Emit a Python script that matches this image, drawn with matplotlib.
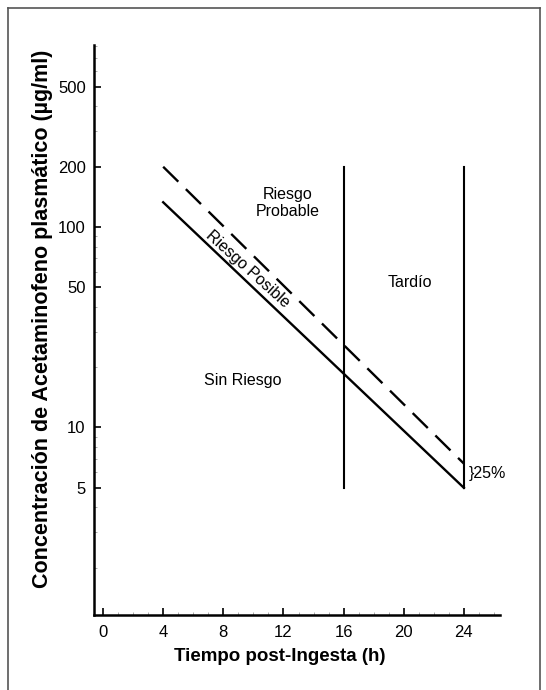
import numpy as np
import matplotlib.pyplot as plt
from matplotlib.ticker import FixedLocator, NullFormatter, LogLocator, MultipleLocator

plt.rcParams['font.family'] = ['Liberation Sans', 'DejaVu Sans']

horas = [4, 24]
linea_tratamiento = [133, 5]      # linea continua
linea_probable = [200, 6.6]       # linea discontinua
cortes_x = [16, 24]
cortes_y = [5, 200]
yticks = [5, 10, 50, 100, 200, 500]
xticks = [0, 4, 8, 12, 16, 20, 24]

fig = plt.figure(figsize=(5.46, 6.90), dpi=100)

# marco gris alrededor de la figura
for xs, ys in [([8/546, 8/546], [0, 1 - 8/690]),
               ([8/546, 540/546], [1 - 8/690, 1 - 8/690]),
               ([540/546, 540/546], [0, 1 - 8/690])]:
    fig.add_artist(plt.Line2D(xs, ys, color='#555555', lw=1.2, transform=fig.transFigure))

ax = fig.add_axes([94/546, 75/690, 406/546, 570/690])
ax.set_yscale('log')
ax.set_xlim(-0.6, 26.4)
ax.set_ylim(1.16, 810)

ax.plot(horas, linea_probable, color='black', lw=1.7, dashes=(9, 4.5))
ax.plot(horas, linea_tratamiento, color='black', lw=1.7)
for xc in cortes_x:
    ax.plot([xc, xc], cortes_y, color='black', lw=1.5)

ax.spines['top'].set_visible(False)
ax.spines['right'].set_visible(False)
ax.spines['left'].set_linewidth(1.8)
ax.spines['bottom'].set_linewidth(1.8)

ax.yaxis.set_major_locator(FixedLocator(yticks))
ax.set_yticklabels([str(v) for v in yticks])
ax.yaxis.set_minor_locator(LogLocator(base=10, subs=np.arange(2, 10)))
ax.yaxis.set_minor_formatter(NullFormatter())
ax.xaxis.set_major_locator(FixedLocator(xticks))
ax.set_xticklabels([str(v) for v in xticks])
ax.xaxis.set_minor_locator(MultipleLocator(1))
ax.tick_params(which='major', direction='in', length=5, width=1.2, labelsize=12, pad=6)
ax.tick_params(which='minor', direction='in', length=2, width=0.5, color='#888888')
ax.tick_params(axis='x', which='major', pad=7)

ax.set_xlabel('Tiempo post-Ingesta (h)', fontsize=13.5, fontweight='bold')
ax.xaxis.set_label_coords(0.458, -0.058)
ax.set_ylabel('Concentración de Acetaminofeno plasmático (µg/ml)', fontsize=15.5,
              fontweight='bold')
ax.yaxis.set_label_coords(-0.1, 0.52)

ax.text(12.3, 132, 'Riesgo\nProbable', ha='center', va='center', fontsize=11.5, linespacing=1.15)
ax.text(20.4, 53, 'Tardío', ha='center', va='center', fontsize=11.5)
ax.text(9.3, 17.2, 'Sin Riesgo', ha='center', va='center', fontsize=11.5)
ax.text(9.6, 62, 'Riesgo Posible', ha='center', va='center', fontsize=11.5, rotation=-42)
ax.text(24.3, 5.9, '}25%', ha='left', va='center', fontsize=11.5)

fig.savefig('out.png', dpi=100)
